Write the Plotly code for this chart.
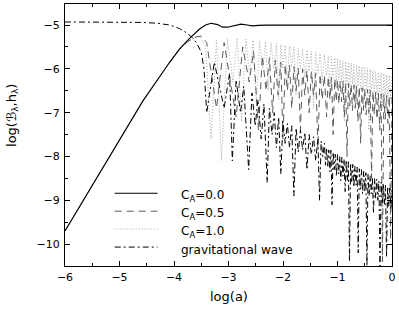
import plotly.graph_objects as go

# ---- C_A = 0.0 (solid) ----
x_ca0 = [-6.0, -5.18, -4.57, -4.08, -3.9, -3.71, -3.53, -3.42, -3.32, -3.2, -3.11, -3.02,
         -2.93, -2.85, -2.77, -2.66, -2.56, -2.45, -2.3, -2.0, -1.5, -1.0, -0.5, 0.0]
y_ca0 = [-9.7, -8.0, -6.73, -5.85, -5.55, -5.3, -5.09, -5.0, -4.96, -4.99, -5.05, -5.05,
         -5.02, -4.99, -4.98, -5.0, -5.02, -5.01, -5.0, -5.0, -5.0, -5.0, -5.0, -5.0]

# ---- C_A = 0.5 (dashed) ----
x_ca05 = [-4.08, -3.9, -3.75, -3.62, -3.5, -3.4, -3.22, -3.08, -2.86, -2.74, -2.62, -2.54,
          -2.45, -2.38, -2.31, -2.25, -2.19, -2.14, -2.09, -2.04, -2.0, -1.96, -1.92, -1.88,
          -1.84, -1.8, -1.76, -1.72, -1.68, -1.64, -1.6, -1.56, -1.52, -1.48, -1.44, -1.4,
          -1.36, -1.32, -1.28, -1.24, -1.2, -1.17, -1.14, -1.11, -1.08, -1.05, -1.02,
          -1.0, -0.975, -0.95, -0.925, -0.9, -0.875, -0.85, -0.825, -0.8, -0.775, -0.75,
          -0.725, -0.7, -0.675, -0.65, -0.625, -0.6, -0.575, -0.55, -0.525, -0.5, -0.475,
          -0.45, -0.425, -0.4, -0.375, -0.35, -0.325, -0.3, -0.275, -0.25, -0.225, -0.2,
          -0.175, -0.15, -0.125, -0.1, -0.075, -0.05, -0.025, 0.0]
y_ca05 = [-5.85, -5.56, -5.38, -5.28, -5.25, -5.4, -6.9, -5.4, -7.1, -5.5, -6.3, -5.6,
          -7.4, -5.7, -6.5, -5.75, -7.0, -5.8, -6.6, -5.85, -7.6, -5.9, -6.5, -5.92,
          -6.9, -5.95, -6.5, -5.98, -7.4, -6.0, -6.6, -6.03, -7.0, -6.06, -6.6, -6.1,
          -7.8, -6.12, -6.7, -6.15, -7.1, -6.18, -6.7, -6.2, -7.5, -6.22, -6.75,
          -6.25, -6.8, -6.27, -6.75, -6.29, -7.1, -6.31, -8.0, -6.33, -6.85, -6.35,
          -6.95, -6.37, -6.9, -6.39, -7.2, -6.41, -7.7, -6.43, -6.95, -6.45, -7.05,
          -6.47, -7.0, -6.49, -8.5, -6.51, -7.05, -6.53, -7.15, -6.55, -7.4, -6.57,
          -10.4, -6.59, -7.15, -6.61, -7.25, -6.62, -9.9, -6.64]

# ---- C_A = 1.0 (dotted) ----
x_ca1 = [-4.08, -3.9, -3.75, -3.62, -3.52, -3.42, -3.32, -3.22, -3.13, -3.02, -2.92, -2.84,
         -2.76, -2.68, -2.61, -2.55, -2.49, -2.43, -2.37, -2.32, -2.27, -2.22, -2.17, -2.12,
         -2.08, -2.04, -2.0, -1.96, -1.92, -1.88, -1.84, -1.8, -1.76, -1.72, -1.68, -1.64,
         -1.6, -1.56, -1.52, -1.48, -1.44, -1.4, -1.36, -1.32, -1.28, -1.24, -1.2, -1.17,
         -1.14, -1.11, -1.08, -1.05, -1.02,
         -1.0, -0.975, -0.95, -0.925, -0.9, -0.875, -0.85, -0.825, -0.8, -0.775, -0.75,
         -0.725, -0.7, -0.675, -0.65, -0.625, -0.6, -0.575, -0.55, -0.525, -0.5, -0.475,
         -0.45, -0.425, -0.4, -0.375, -0.35, -0.325, -0.3, -0.275, -0.25, -0.225, -0.2,
         -0.175, -0.15, -0.125, -0.1, -0.075, -0.05, -0.025, 0.0]
y_ca1 = [-5.85, -5.56, -5.38, -5.3, -5.26, -5.5, -7.6, -5.35, -8.1, -5.3, -6.3, -5.3,
         -7.2, -5.32, -6.2, -5.34, -6.8, -5.36, -6.0, -5.38, -6.5, -5.4, -6.0, -5.42,
         -6.7, -5.44, -6.0, -5.46, -6.3, -5.48, -5.95, -5.5, -6.6, -5.52, -6.0, -5.55,
         -6.2, -5.57, -6.05, -5.6, -6.9, -5.62, -6.1, -5.65, -6.3, -5.67, -6.15, -5.7,
         -6.6, -5.72, -6.2, -5.75, -6.35,
         -5.77, -6.25, -5.79, -6.3, -5.81, -7.2, -5.83, -6.35, -5.85, -6.4, -5.87,
         -6.35, -5.89, -6.8, -5.91, -6.4, -5.93, -6.45, -5.95, -6.5, -5.97, -6.45,
         -5.99, -7.4, -6.01, -6.5, -6.03, -6.55, -6.05, -6.6, -6.07, -6.55, -6.09,
         -6.9, -6.11, -6.6, -6.13, -6.65, -6.15, -6.7, -6.17]

# ---- gravitational wave (dash-dot) ----
x_gw = [-6.0, -5.0, -4.6, -4.3, -4.08, -3.9, -3.78, -3.66, -3.58, -3.5, -3.45, -3.4,
        -3.26, -3.08, -2.98, -2.93, -2.86, -2.78, -2.72, -2.63, -2.57, -2.51, -2.46, -2.4,
        -2.35, -2.29, -2.25, -2.2, -2.16, -2.12, -2.08, -2.04, -2.0, -1.96, -1.92, -1.88,
        -1.84, -1.8, -1.76, -1.72, -1.68, -1.64, -1.6, -1.56, -1.52, -1.48, -1.44, -1.4,
        -1.36, -1.33, -1.3, -1.27, -1.24, -1.22,
        -1.2, -1.18, -1.16, -1.14, -1.12, -1.1, -1.08, -1.06, -1.04, -1.02, -1.0, -0.98,
        -0.96, -0.94, -0.92, -0.9, -0.88, -0.86, -0.84, -0.82, -0.8, -0.78, -0.76, -0.74,
        -0.72, -0.7, -0.68, -0.66, -0.64, -0.62, -0.6, -0.58, -0.56, -0.54, -0.52, -0.5,
        -0.48, -0.46, -0.44, -0.42, -0.4, -0.38, -0.36, -0.34, -0.32, -0.3, -0.28, -0.26,
        -0.24, -0.22, -0.2, -0.18, -0.16, -0.14, -0.12, -0.1, -0.08, -0.06, -0.04, -0.02, 0.0]
y_gw = [-4.93, -4.93, -4.94, -4.96, -5.0, -5.08, -5.17, -5.29, -5.42, -5.62, -6.0, -7.0,
        -5.85, -6.9, -6.1, -8.1, -6.25, -7.0, -6.4, -8.3, -6.55, -7.3, -6.7, -7.6,
        -6.8, -8.6, -6.9, -7.5, -7.0, -7.8, -7.1, -8.4, -7.2, -7.7, -7.25, -7.8,
        -7.3, -8.9, -7.35, -7.9, -7.4, -7.85, -7.45, -8.3, -7.5, -7.95, -7.55, -8.1,
        -7.6, -9.0, -7.65, -8.0, -7.7, -8.2,
        -7.8, -8.25, -7.85, -8.35, -7.86, -9.1, -7.9, -8.3, -7.95, -8.45, -7.96, -8.4,
        -8.0, -8.55, -8.02, -8.45, -8.06, -8.8, -8.08, -8.55, -8.12, -10.4, -8.15, -8.6,
        -8.18, -8.7, -8.22, -8.65, -8.24, -10.2, -8.28, -8.75, -8.3, -8.85, -8.34, -8.8,
        -8.37, -10.5, -8.4, -8.9, -8.44, -8.85, -8.47, -9.3, -8.5, -8.95, -8.52, -9.0,
        -8.56, -10.5, -8.59, -9.05, -8.62, -9.1, -8.66, -10.3, -8.69, -9.15, -8.72, -9.2, -8.75]

x_ticks = [-6, -5, -4, -3, -2, -1, 0]
y_ticks = [-10, -9, -8, -7, -6, -5]

legend_names = ["C<sub>A</sub>=0.0", "C<sub>A</sub>=0.5", "C<sub>A</sub>=1.0", "gravitational wave"]
legend_colors = ["black", "#5a5a5a", "#a8a8a8", "black"]
legend_dashes = ["solid", "7px,5px", "1px,2px", "6px,3px,2px,3px"]
legend_widths = [1.2, 1, 1, 1]

FONT = "DejaVu Sans, Verdana, sans-serif"

fig = go.Figure()
fig.add_trace(go.Scatter(x=x_ca1, y=y_ca1, mode="lines", name=legend_names[2], showlegend=False,
                         line=dict(color=legend_colors[2], width=1, dash=legend_dashes[2])))
fig.add_trace(go.Scatter(x=x_ca05, y=y_ca05, mode="lines", name=legend_names[1], showlegend=False,
                         line=dict(color=legend_colors[1], width=1, dash=legend_dashes[1])))
fig.add_trace(go.Scatter(x=x_gw, y=y_gw, mode="lines", name=legend_names[3], showlegend=False,
                         line=dict(color=legend_colors[3], width=1, dash=legend_dashes[3])))
fig.add_trace(go.Scatter(x=x_ca0, y=y_ca0, mode="lines", name=legend_names[0], showlegend=False,
                         line=dict(color=legend_colors[0], width=1.2)))

# hand-placed legend (paper coordinates)
row_y = [0.2776, 0.2091, 0.1407, 0.0722]
for name, col, dash, w, ry in zip(legend_names, legend_colors, legend_dashes, legend_widths, row_y):
    fig.add_shape(type="line", xref="paper", yref="paper", x0=0.152, x1=0.283, y0=ry, y1=ry,
                  line=dict(color=col, width=w, dash=dash))
    fig.add_annotation(xref="paper", yref="paper", x=0.3495, y=ry - 0.012, xanchor="left",
                       yanchor="middle", text=name, showarrow=False,
                       font=dict(family=FONT, size=12, color="black"))

axis_common = dict(showline=True, linecolor="black", linewidth=1, mirror="ticks",
                   ticks="inside", ticklen=5, tickcolor="black", showgrid=False,
                   zeroline=False, tickfont=dict(family=FONT, size=11, color="black"),
                   minor=dict(ticks="inside", ticklen=3, dtick=0.5, tickcolor="black", showgrid=False))

fig.add_annotation(xref="paper", yref="paper", x=-0.161, y=0.574, textangle=-90,
                   text="log(ℬ<sub>λ</sub>,h<sub>λ</sub>)", showarrow=False,
                   xanchor="center", yanchor="middle", font=dict(family=FONT, size=13, color="black"))
fig.add_annotation(xref="paper", yref="paper", x=0.5015, y=-0.118, text="log(a)", showarrow=False,
                   xanchor="center", yanchor="middle", font=dict(family=FONT, size=13, color="black"))

fig.update_layout(
    width=399, height=309,
    margin=dict(l=65, r=5, t=3, b=43),
    paper_bgcolor="white", plot_bgcolor="white",
    font=dict(family=FONT, size=12, color="black"),
    xaxis=dict(range=[-6, 0], tickvals=x_ticks, ticklabelstandoff=1, **axis_common),
    yaxis=dict(range=[-10.5, -4.52], tickvals=y_ticks, ticklabelstandoff=2, **axis_common),
    showlegend=False,
)

fig.write_html("out.html", config={"displayModeBar": False},
               post_script="document.body.style.margin='0px';")
